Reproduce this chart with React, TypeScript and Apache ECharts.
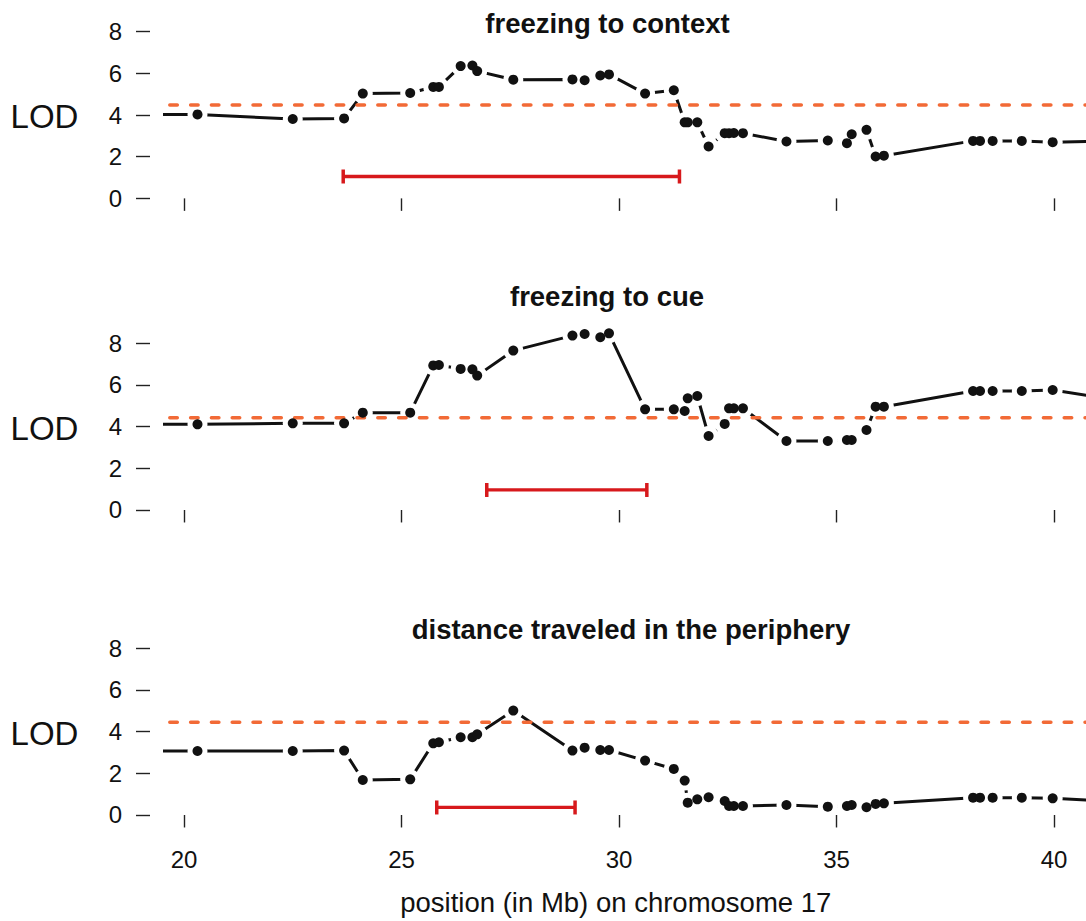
import React, { useEffect, useRef } from "react";
import * as echarts from "echarts";

// ---- data ----
const positionsMb = [
  19.3, 20.31, 22.5, 23.68, 24.11, 25.2, 25.73, 25.86, 26.36, 26.63, 26.74, 27.57,
  28.93, 29.21, 29.57, 29.77, 30.6, 31.26, 31.51, 31.58, 31.8, 32.06, 32.43, 32.53,
  32.64, 32.85, 33.85, 34.8, 35.24, 35.35, 35.69, 35.9, 36.09, 38.14, 38.3, 38.59,
  39.26, 39.97, 41.2,
];
const lodFreezingContext = [
  4.02, 4.03, 3.81, 3.84, 5.03, 5.06, 5.35, 5.35, 6.35, 6.38, 6.11, 5.7,
  5.71, 5.67, 5.9, 5.95, 5.03, 5.19, 3.65, 3.65, 3.65, 2.49, 3.13, 3.13,
  3.14, 3.13, 2.73, 2.78, 2.65, 3.08, 3.29, 2.01, 2.05, 2.76, 2.76, 2.76,
  2.76, 2.7, 2.75,
];
const lodFreezingCue = [
  4.11, 4.11, 4.16, 4.16, 4.67, 4.67, 6.94, 6.96, 6.77, 6.75, 6.45, 7.65,
  8.37, 8.45, 8.29, 8.48, 4.83, 4.83, 4.75, 5.36, 5.47, 3.55, 4.13, 4.88,
  4.88, 4.88, 3.31, 3.31, 3.36, 3.36, 3.84, 4.96, 4.96, 5.71, 5.71, 5.71,
  5.71, 5.76, 5.36,
];
const lodDistancePeriphery = [
  3.07, 3.07, 3.07, 3.09, 1.68, 1.71, 3.44, 3.49, 3.73, 3.73, 3.87, 5.01,
  3.09, 3.23, 3.12, 3.12, 2.61, 2.21, 1.65, 0.59, 0.75, 0.85, 0.67, 0.43,
  0.43, 0.43, 0.48, 0.4, 0.43, 0.48, 0.37, 0.53, 0.56, 0.83, 0.83, 0.83,
  0.83, 0.8, 0.67,
];
const panelTitles = ["freezing to context", "freezing to cue", "distance traveled in the periphery"];
const thresholds = [4.48, 4.43, 4.45];
const intervalStart = [23.66, 26.96, 25.81];
const intervalEnd = [31.39, 30.64, 28.99];
const intervalLevel = [1.05, 0.96, 0.36];
const xTickValues = [20, 25, 30, 35, 40];
const yTickValues = [0, 2, 4, 6, 8];
const xAxisTitle = "position (in Mb) on chromosome 17";
const yAxisTitle = "LOD";

// ---- layout / style ----
const X_MIN = 19.563;
const X_MAX = 40.736;
const Y_MIN = -0.35;
const Y_MAX = 9.0;
const PX_PER_UNIT = 20.83;
const GRID_TOPS = [10.9, 322.5, 627.5];
const GRID_LEFT = 165;
const FONT = "'Liberation Sans', Arial, Helvetica, sans-serif";
const BLACK = "#111111";
const ORANGE = "#f26a36";
const RED = "#d7191c";

const panelValues = [lodFreezingContext, lodFreezingCue, lodDistancePeriphery];
const titleCenters = [
  [607.5, 23],
  [607, 296],
  [631, 629.5],
];
const lodLabelY = [116.7, 428.4, 733.4];

export default function App() {
  const ref = useRef<HTMLDivElement>(null);

  useEffect(() => {
    if (!ref.current) return;
    const chart = echarts.init(ref.current, undefined, { renderer: "svg" });
    const gridHeight = (Y_MAX - Y_MIN) * PX_PER_UNIT;

    const grids: any[] = [];
    const xAxes: any[] = [];
    const yAxes: any[] = [];
    const series: any[] = [];
    const graphics: any[] = [];

    panelValues.forEach((vals, i) => {
      grids.push({ left: GRID_LEFT, right: 0, top: GRID_TOPS[i], height: gridHeight, containLabel: false });
      xAxes.push({
        type: "value",
        gridIndex: i,
        min: X_MIN,
        max: X_MAX,
        axisLine: { show: false },
        splitLine: { show: false },
        axisTick: {
          show: true,
          customValues: xTickValues,
          length: 12.5,
          lineStyle: { color: "#222", width: 1.4 },
        },
        axisLabel: {
          show: i === 2,
          customValues: xTickValues,
          margin: 25,
          fontSize: 24,
          color: BLACK,
          fontFamily: FONT,
        },
      });
      yAxes.push({
        type: "value",
        gridIndex: i,
        min: Y_MIN,
        max: Y_MAX,
        offset: 15,
        axisLine: { show: false },
        splitLine: { show: false },
        axisTick: {
          show: true,
          customValues: yTickValues,
          length: 14,
          lineStyle: { color: "#222", width: 1.4 },
        },
        axisLabel: {
          show: true,
          customValues: yTickValues,
          margin: 28,
          fontSize: 24,
          color: BLACK,
          fontFamily: FONT,
        },
      });

      const pts = positionsMb.map((x, j) => [x, vals[j]]);
      series.push({
        type: "line",
        xAxisIndex: i,
        yAxisIndex: i,
        data: pts,
        symbol: "none",
        showSymbol: false,
        clip: true,
        silent: true,
        lineStyle: { color: BLACK, width: 3, cap: "round", opacity: 1 },
        z: 2,
      });
      series.push({
        type: "scatter",
        xAxisIndex: i,
        yAxisIndex: i,
        data: pts,
        symbol: "circle",
        symbolSize: 20,
        clip: true,
        silent: true,
        itemStyle: { color: "#ffffff", opacity: 1 },
        z: 3,
      });
      series.push({
        type: "line",
        xAxisIndex: i,
        yAxisIndex: i,
        data: [
          [X_MIN, thresholds[i]],
          [X_MAX, thresholds[i]],
        ],
        symbol: "none",
        showSymbol: false,
        silent: true,
        lineStyle: { color: ORANGE, width: 3.5, type: [7.5, 13.3], dashOffset: 15.8, cap: "round", opacity: 1 },
        z: 4,
      });
      series.push({
        type: "line",
        xAxisIndex: i,
        yAxisIndex: i,
        data: [
          [intervalStart[i], intervalLevel[i]],
          [intervalEnd[i], intervalLevel[i]],
        ],
        symbol: "rect",
        symbolSize: [3.5, 14],
        showSymbol: true,
        silent: true,
        itemStyle: { color: RED, opacity: 1 },
        lineStyle: { color: RED, width: 3.3, opacity: 1 },
        z: 4,
      });
      series.push({
        type: "scatter",
        xAxisIndex: i,
        yAxisIndex: i,
        data: pts,
        symbol: "circle",
        symbolSize: 10,
        clip: true,
        silent: true,
        itemStyle: { color: BLACK, opacity: 1 },
        z: 5,
      });

      graphics.push({
        type: "text",
        x: titleCenters[i][0],
        y: titleCenters[i][1],
        style: {
          text: panelTitles[i],
          fill: BLACK,
          font: `bold 27.5px ${FONT}`,
          textAlign: "center",
          textVerticalAlign: "middle",
        },
      });
      graphics.push({
        type: "text",
        x: 44.5,
        y: lodLabelY[i],
        style: {
          text: yAxisTitle,
          fill: BLACK,
          font: `33px ${FONT}`,
          textAlign: "center",
          textVerticalAlign: "middle",
        },
      });
    });

    graphics.push({
      type: "text",
      x: 615.8,
      y: 902,
      style: {
        text: xAxisTitle,
        fill: BLACK,
        font: `27.5px ${FONT}`,
        textAlign: "center",
        textVerticalAlign: "middle",
      },
    });

    chart.setOption({
      animation: false,
      backgroundColor: "#ffffff",
      grid: grids,
      xAxis: xAxes,
      yAxis: yAxes,
      series,
      graphic: graphics,
    });

    return () => chart.dispose();
  }, []);

  return (
    <div
      ref={ref}
      style={{ position: "absolute", left: 0, top: 0, width: 1086, height: 921 }}
    />
  );
}
